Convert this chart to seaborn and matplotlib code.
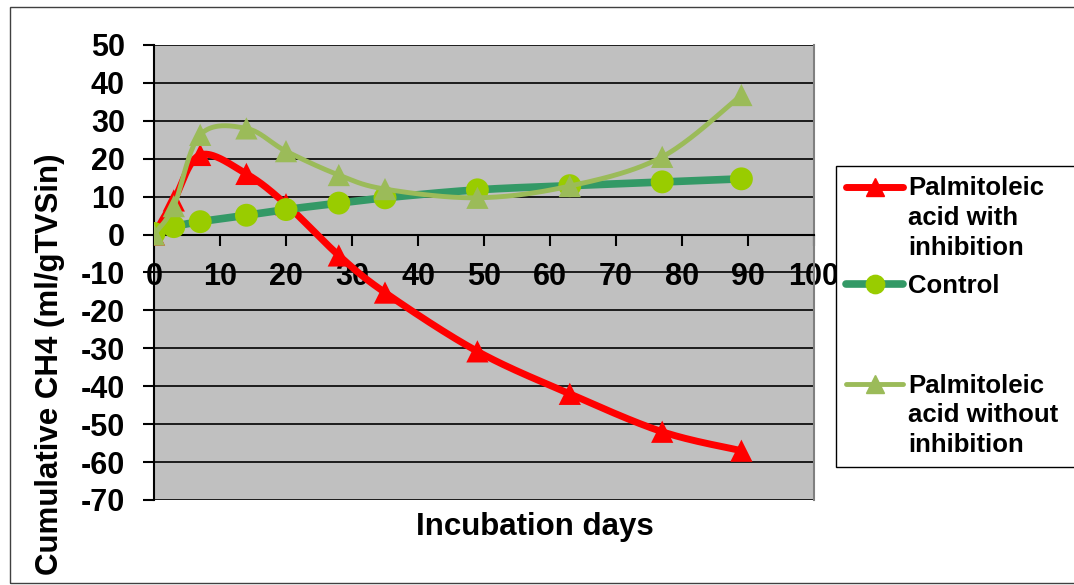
import numpy as np
import matplotlib
matplotlib.use("Agg")
import matplotlib.pyplot as plt
from matplotlib.lines import Line2D
from matplotlib.patches import Rectangle
from matplotlib.legend_handler import HandlerLine2D
import seaborn as sns

# Incubation days and cumulative methane yield (ml/gTVSin)
days = [0, 3, 7, 14, 20, 28, 35, 49, 63, 77, 89]
with_inhibition = [0, 9, 21, 16, 8, -5.5, -15.3, -30.8, -42, -52, -57]
control = [0.3, 2.1, 3.4, 5.1, 6.6, 8.3, 9.7, 11.8, 12.9, 13.9, 14.7]
without_inhibition = [0, 7.5, 26.3, 28, 22, 15.7, 12, 9.7, 12.8, 20.5, 36.8]

series_labels = ["Palmitoleic\nacid with\ninhibition",
                 "Control",
                 "Palmitoleic\nacid without\u00a0\u00a0\ninhibition"]
x_ticks = list(range(0, 101, 10))
y_ticks = list(range(-70, 51, 10))
x_title = "Incubation days"
y_title = "Cumulative CH4 (ml/gTVSin)"


def smooth(x, y, n=40):
    """Smoothed curve through every point (cubic Bezier, Catmull-Rom tangents)."""
    p = np.column_stack([x, y]).astype(float)
    ext = np.vstack([p[0], p, p[-1]])
    t = np.linspace(0, 1, n)[:, None]
    parts = []
    for i in range(len(p) - 1):
        p0, p1, p2, p3 = ext[i], ext[i + 1], ext[i + 2], ext[i + 3]
        c1 = p1 + (p2 - p0) / 6
        c2 = p2 - (p3 - p1) / 6
        seg = ((1 - t) ** 3) * p1 + 3 * ((1 - t) ** 2) * t * c1 \
            + 3 * (1 - t) * t ** 2 * c2 + t ** 3 * p2
        parts.append(seg if i == 0 else seg[1:])
    c = np.vstack(parts)
    return c[:, 0], c[:, 1]


class FirstLineHandler(HandlerLine2D):
    """Legend line drawn level with the first line of a multi-line label."""

    def __init__(self, shift_pts=0.0, **kw):
        super().__init__(**kw)
        self.shift_pts = shift_pts

    def create_artists(self, legend, orig_handle, xdescent, ydescent,
                       width, height, fontsize, trans):
        return super().create_artists(legend, orig_handle, xdescent,
                                      ydescent - 2 * self.shift_pts,
                                      width, height, fontsize, trans)


sns.set_style("white", {"axes.facecolor": "#C0C0C0"})
plt.rcParams["font.family"] = ["Liberation Sans", "DejaVu Sans"]
plt.rcParams["font.weight"] = "bold"
plt.rcParams["text.color"] = "black"
plt.rcParams["axes.unicode_minus"] = False

fig = plt.figure(figsize=(10.74, 5.85), dpi=100)
ax = fig.add_axes([154 / 1074, 1 - 500 / 585, 660 / 1074, 455 / 585])

styles = [
    dict(y=with_inhibition, line="#FF0000", face="#FF0000", marker="^", lw=5.0, ms=16, z=3),
    dict(y=control, line="#339966", face="#99CC00", marker="o", lw=5.5, ms=16.5, z=4),
    dict(y=without_inhibition, line="#9BBB59", face="#9BBB59", marker="^", lw=3.5, ms=16, z=5),
]

handles = []
for st, lab in zip(styles, series_labels):
    sx, sy = smooth(days, st["y"])
    sns.lineplot(x=sx, y=sy, sort=False, estimator=None, color=st["line"],
                 lw=st["lw"], ax=ax, zorder=st["z"])
    sns.scatterplot(x=days, y=st["y"], marker=st["marker"], s=st["ms"] ** 2,
                    color=st["face"], edgecolor="none", linewidth=0, ax=ax,
                    zorder=st["z"] + 0.1)
    handles.append(Line2D([], [], color=st["line"], lw=st["lw"],
                          marker=st["marker"], markersize=st["ms"] * 0.8,
                          markerfacecolor=st["face"], markeredgecolor=st["face"],
                          solid_capstyle="round", label=lab))

ax.set_xlim(0, 100)
ax.set_ylim(-70, 50)
ax.set_xticks(x_ticks)
ax.set_yticks(y_ticks)
ax.set_xlabel("")
ax.set_ylabel("")

ax.yaxis.grid(True, color="black", lw=1.2)
ax.xaxis.grid(False)

ax.spines["bottom"].set_position(("data", 0))
for side in ("left", "bottom"):
    ax.spines[side].set_color("black")
    ax.spines[side].set_linewidth(1.5)
ax.spines["right"].set_color("#808080")
ax.spines["right"].set_linewidth(1.5)
ax.spines["top"].set_visible(False)

ax.tick_params(axis="x", direction="out", length=8, width=1.5, pad=12,
               labelsize=22, bottom=True, colors="black")
ax.tick_params(axis="y", direction="out", length=8, width=1.5, pad=13,
               labelsize=22, left=True, colors="black")
for lbl in ax.get_xticklabels() + ax.get_yticklabels():
    lbl.set_fontweight("bold")

fig.text(535 / 1074, 1 - 527 / 585, x_title, ha="center", va="center",
         fontsize=22.5, fontweight="bold", color="black")
fig.text(50 / 1074, 1 - 364 / 585, y_title, ha="center", va="center",
         rotation=90, fontsize=22.5, fontweight="bold", color="black")

# spacer entry leaves the gap between "Control" and the last series
leg_size = 18.5
leg_linespacing = 1.3
spacer = Line2D([], [], color="none", label="\n")
line_step = 0.953 * leg_linespacing * leg_size
leg = ax.legend(handles=[handles[0], handles[1], spacer, handles[2]],
                handler_map={handles[0]: FirstLineHandler(line_step),
                             handles[2]: FirstLineHandler(line_step)},
                loc="upper left", bbox_to_anchor=(836 / 1074, 1 - 166 / 585),
                bbox_transform=fig.transFigure,
                prop=dict(family="Liberation Sans", weight="bold", size=leg_size),
                frameon=True, fancybox=False, framealpha=1,
                facecolor="white", edgecolor="black",
                borderpad=0.4, handlelength=2.2, handletextpad=0.2,
                labelspacing=0.57, borderaxespad=0)
leg.get_frame().set_linewidth(1.0)
for txt in leg.get_texts():
    txt.set_color("black")
    txt.set_linespacing(leg_linespacing)
leg.get_texts()[2].set_linespacing(0.9)

# chart-area border
fig.patches.append(Rectangle((10 / 1074, 1 - 583 / 585), 1.2, 576 / 585,
                             transform=fig.transFigure, fill=False,
                             edgecolor="#404040", lw=1.0))

fig.savefig("out.png", dpi=100)
